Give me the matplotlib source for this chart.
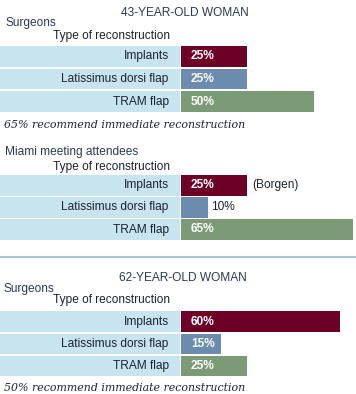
import matplotlib.pyplot as plt

plt.rcParams['font.family'] = ['Liberation Sans', 'DejaVu Sans']

# Data
categories = ['Implants', 'Latissimus dorsi flap', 'TRAM flap']
surgeons_43 = [25, 25, 50]
miami_43 = [25, 10, 65]
surgeons_62 = [60, 15, 25]

colors = ['#6d0026', '#6b8cae', '#7b9a76']
box_color = '#c8e4ef'
navy = '#2b3a55'
ink = '#1c2433'
FS = 8.6

W, H = 356, 394
PX_PER_UNIT = 2.65
LABEL_W = 181  # width of the light-blue label column in px

fig = plt.figure(figsize=(W / 100, H / 100), dpi=100)


def fx(px):
    return px / W


def fy(py):
    return 1 - py / H


def panel(top, bottom, values, outside=None):
    ax = fig.add_axes([0, fy(bottom), 1, (bottom - top) / H])
    xmin = -LABEL_W / PX_PER_UNIT
    xmax = (W - LABEL_W) / PX_PER_UNIT
    ax.set_xlim(xmin, xmax)
    ax.set_ylim(2.5, -0.5)
    ax.axis('off')
    y = range(len(categories))
    # label boxes
    ax.barh(y, [-xmin - 0.3] * len(categories), left=xmin, height=0.92,
            color=box_color, edgecolor='none')
    ax.barh(y, values, left=0.05, height=0.92, color=colors, edgecolor='none')
    for i, (cat, v) in enumerate(zip(categories, values)):
        ax.text(-4.6, i, cat, ha='right', va='center', fontsize=FS, color=ink)
        if outside is not None and outside[i]:
            ax.text(v + 1.2, i, f'{v}%', ha='left', va='center', fontsize=FS,
                    color=ink)
        else:
            ax.text(3.8, i, f'{v}%', ha='left', va='center', fontsize=FS,
                    color='white', fontweight='bold')
    return ax


def note(py, txt):
    fig.text(fx(4), fy(py), txt, ha='left', va='center', fontsize=7.9,
             style='italic', family='DejaVu Serif', color=ink)


# Panel 1: 43-year-old woman, surgeons
fig.text(fx(185), fy(13), '43-YEAR-OLD WOMAN', ha='center', va='center',
         fontsize=FS, color=navy)
fig.text(fx(5), fy(23), 'Surgeons', ha='left', va='center', fontsize=FS, color=navy)
fig.text(fx(170), fy(36), 'Type of reconstruction', ha='right', va='center',
         fontsize=FS, color=ink)
panel(45.2, 112.8, surgeons_43)
note(125, '65% recommend immediate reconstruction')

# Panel 2: Miami meeting attendees
fig.text(fx(5), fy(152), 'Miami meeting attendees', ha='left', va='center',
         fontsize=FS, color=navy)
fig.text(fx(170), fy(167), 'Type of reconstruction', ha='right', va='center',
         fontsize=FS, color=ink)
ax2 = panel(174.5, 240.5, miami_43, outside=[False, True, False])
ax2.text(miami_43[0] + 2, 0, '(Borgen)', ha='left', va='center', fontsize=FS,
         color=ink)

# separator line
fig.add_artist(plt.Line2D([0, 1], [fy(257), fy(257)], color='#a8c4d8', lw=1.5))

# Panel 3: 62-year-old woman, surgeons
fig.text(fx(183), fy(278), '62-YEAR-OLD WOMAN', ha='center', va='center',
         fontsize=FS, color=navy)
fig.text(fx(4), fy(289), 'Surgeons', ha='left', va='center', fontsize=FS, color=navy)
fig.text(fx(170), fy(300), 'Type of reconstruction', ha='right', va='center',
         fontsize=FS, color=ink)
panel(310.4, 377.1, surgeons_62)
note(388, '50% recommend immediate reconstruction')

fig.savefig('out.png', dpi=100, facecolor='white')
